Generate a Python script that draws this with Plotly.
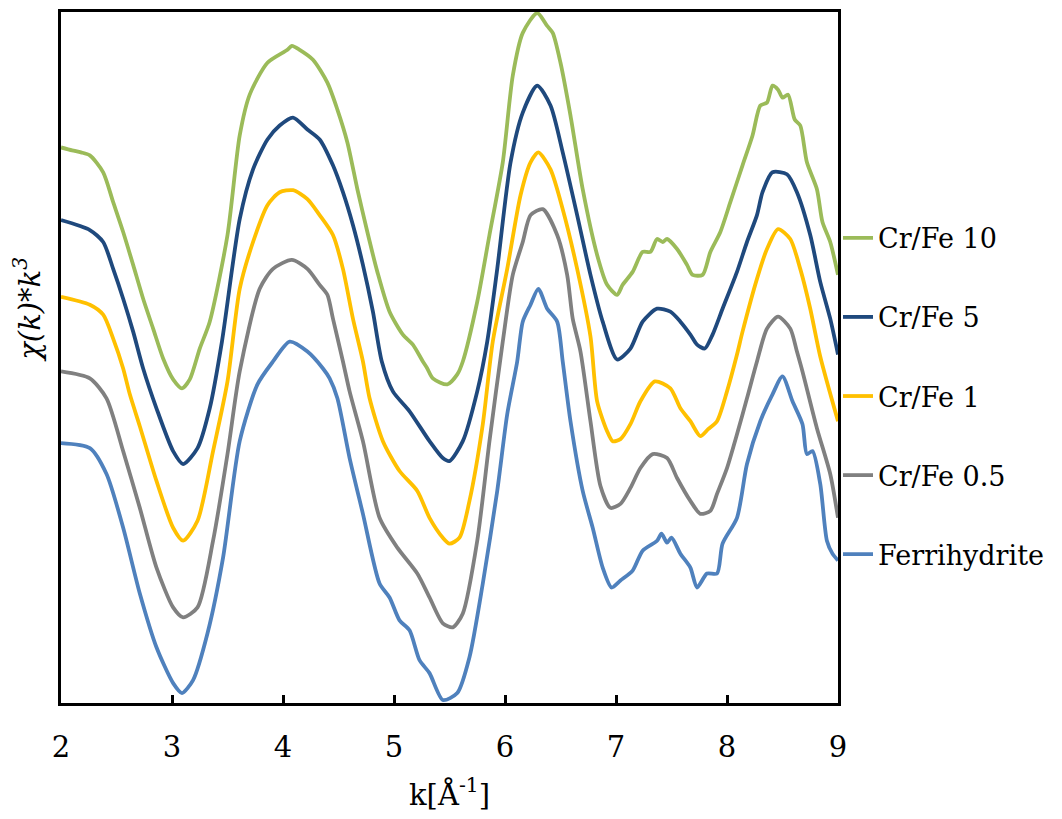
import plotly.graph_objects as go

# EXAFS k^3-weighted chi(k) spectra, vertically offset for clarity (arbitrary units)
k_cr10 = [2.00, 2.10, 2.18, 2.26, 2.38, 2.47, 2.56, 2.65, 2.74, 2.83, 2.92, 3.01, 3.09, 3.16, 3.25,
          3.34, 3.50, 3.61, 3.70, 3.86, 4.04, 4.08, 4.15, 4.27, 4.40, 4.49, 4.58, 4.67, 4.76, 4.85,
          4.96, 5.08, 5.17, 5.26, 5.30, 5.35, 5.48, 5.57, 5.62, 5.75, 5.86, 5.98, 6.07, 6.16, 6.29,
          6.38, 6.43, 6.50, 6.59, 6.70, 6.83, 6.92, 7.01, 7.06, 7.15, 7.24, 7.31, 7.37, 7.42, 7.46,
          7.55, 7.64, 7.69, 7.78, 7.85, 7.94, 8.03, 8.14, 8.23, 8.30, 8.36, 8.41, 8.46, 8.50, 8.55,
          8.61, 8.66, 8.72, 8.81, 8.86, 8.93, 9.00]
chi_cr10 = [5.58, 5.55, 5.53, 5.50, 5.33, 5.03, 4.73, 4.40, 4.06, 3.76, 3.46, 3.25, 3.16, 3.25, 3.56,
            3.83, 4.70, 5.70, 6.11, 6.43, 6.56, 6.60, 6.56, 6.46, 6.23, 5.96, 5.63, 5.16, 4.73, 4.33,
            3.93, 3.70, 3.60, 3.43, 3.36, 3.26, 3.20, 3.30, 3.43, 4.03, 4.70, 5.43, 6.30, 6.73, 6.93,
            6.80, 6.73, 6.43, 5.90, 5.16, 4.50, 4.20, 4.10, 4.20, 4.33, 4.53, 4.53, 4.66, 4.63, 4.66,
            4.56, 4.40, 4.30, 4.30, 4.53, 4.73, 5.03, 5.40, 5.70, 6.00, 6.03, 6.20, 6.16, 6.08, 6.11,
            5.86, 5.80, 5.43, 5.16, 4.83, 4.63, 4.30]

k_cr5 = [2.00, 2.26, 2.38, 2.47, 2.56, 2.65, 2.74, 2.86, 3.01, 3.10, 3.23, 3.34, 3.45, 3.61, 3.73,
         3.86, 3.97, 4.09, 4.22, 4.33, 4.45, 4.54, 4.63, 4.72, 4.81, 4.89, 4.99, 5.14, 5.32, 5.44,
         5.50, 5.62, 5.75, 5.84, 5.93, 6.05, 6.16, 6.29, 6.41, 6.52, 6.65, 6.77, 6.88, 7.01, 7.13,
         7.24, 7.37, 7.49, 7.58, 7.67, 7.73, 7.80, 7.87, 7.96, 8.09, 8.18, 8.27, 8.32, 8.41, 8.54,
         8.63, 8.75, 8.84, 8.93, 9.00]
chi_cr5 = [4.85, 4.75, 4.63, 4.36, 4.06, 3.73, 3.36, 2.96, 2.53, 2.40, 2.56, 2.96, 3.63, 4.86, 5.36,
           5.66, 5.80, 5.88, 5.76, 5.66, 5.40, 5.13, 4.80, 4.40, 3.93, 3.43, 3.13, 2.93, 2.63, 2.46,
           2.43, 2.63, 3.13, 3.63, 4.36, 5.43, 5.93, 6.20, 6.00, 5.53, 4.90, 4.30, 3.83, 3.45, 3.56,
           3.83, 3.96, 3.93, 3.83, 3.70, 3.60, 3.56, 3.70, 3.96, 4.33, 4.63, 4.90, 5.13, 5.33, 5.31,
           5.13, 4.70, 4.23, 3.86, 3.50]

k_cr1 = [2.00, 2.26, 2.38, 2.47, 2.56, 2.62, 2.71, 2.86, 3.01, 3.10, 3.23, 3.37, 3.50, 3.61, 3.73,
         3.86, 3.97, 4.09, 4.22, 4.33, 4.45, 4.54, 4.63, 4.72, 4.78, 4.90, 5.05, 5.21, 5.32, 5.44,
         5.50, 5.59, 5.68, 5.80, 5.89, 6.02, 6.14, 6.23, 6.30, 6.41, 6.52, 6.65, 6.77, 6.83, 6.92,
         6.97, 7.04, 7.13, 7.22, 7.35, 7.49, 7.58, 7.67, 7.76, 7.83, 7.91, 8.00, 8.09, 8.14, 8.27,
         8.36, 8.46, 8.57, 8.66, 8.75, 8.84, 9.00]
chi_cr1 = [4.08, 4.00, 3.90, 3.66, 3.36, 3.10, 2.78, 2.23, 1.76, 1.63, 1.83, 2.53, 3.23, 4.16, 4.63,
           5.00, 5.13, 5.15, 5.06, 4.90, 4.70, 4.36, 3.86, 3.43, 3.06, 2.63, 2.33, 2.13, 1.86, 1.66,
           1.60, 1.66, 2.03, 2.80, 3.63, 4.36, 5.10, 5.43, 5.53, 5.36, 4.96, 4.36, 3.68, 3.03, 2.73,
           2.63, 2.65, 2.80, 3.03, 3.23, 3.16, 2.96, 2.83, 2.68, 2.75, 2.83, 3.13, 3.50, 3.73, 4.26,
           4.56, 4.76, 4.66, 4.36, 3.96, 3.48, 2.83]

k_cr05 = [2.00, 2.26, 2.41, 2.56, 2.71, 2.86, 3.01, 3.10, 3.23, 3.37, 3.50, 3.61, 3.79, 3.91, 4.08,
          4.22, 4.33, 4.40, 4.45, 4.54, 4.60, 4.72, 4.87, 5.03, 5.21, 5.32, 5.44, 5.53, 5.62, 5.75,
          5.86, 5.98, 6.07, 6.16, 6.23, 6.34, 6.47, 6.56, 6.61, 6.68, 6.77, 6.86, 6.95, 7.04, 7.13,
          7.22, 7.33, 7.46, 7.55, 7.67, 7.76, 7.85, 7.91, 8.00, 8.09, 8.18, 8.27, 8.36, 8.46, 8.57,
          8.63, 8.68, 8.81, 8.93, 9.00]
chi_cr05 = [3.33, 3.26, 3.06, 2.53, 1.96, 1.36, 0.96, 0.86, 0.96, 1.63, 2.50, 3.33, 4.16, 4.36, 4.45,
            4.36, 4.20, 4.10, 3.86, 3.43, 3.13, 2.63, 1.86, 1.56, 1.30, 1.06, 0.80, 0.76, 0.90, 1.63,
            2.63, 3.63, 4.30, 4.63, 4.90, 4.96, 4.70, 4.30, 3.86, 3.53, 2.83, 2.18, 1.96, 2.00, 2.16,
            2.36, 2.50, 2.46, 2.26, 2.03, 1.90, 1.93, 2.10, 2.36, 2.70, 3.06, 3.43, 3.76, 3.88, 3.76,
            3.53, 3.33, 2.76, 2.30, 1.86]

k_fh = [2.00, 2.26, 2.41, 2.56, 2.71, 2.86, 3.01, 3.09, 3.19, 3.32, 3.46, 3.61, 3.77, 3.91, 4.06,
        4.22, 4.36, 4.42, 4.49, 4.60, 4.72, 4.87, 4.96, 5.05, 5.14, 5.23, 5.32, 5.44, 5.57, 5.68,
        5.80, 5.93, 6.02, 6.11, 6.16, 6.23, 6.30, 6.38, 6.47, 6.52, 6.59, 6.70, 6.79, 6.88, 6.96,
        7.04, 7.15, 7.24, 7.37, 7.41, 7.46, 7.50, 7.58, 7.67, 7.73, 7.82, 7.91, 7.96, 8.09, 8.18,
        8.30, 8.41, 8.50, 8.59, 8.68, 8.72, 8.77, 8.84, 8.90, 8.95, 9.00]
chi_fh = [2.61, 2.56, 2.30, 1.76, 1.10, 0.56, 0.20, 0.10, 0.23, 0.70, 1.46, 2.63, 3.20, 3.43, 3.63,
          3.53, 3.36, 3.26, 3.06, 2.46, 1.90, 1.20, 1.06, 0.83, 0.73, 0.43, 0.30, 0.03, 0.10, 0.46,
          1.20, 2.13, 2.90, 3.43, 3.83, 4.00, 4.16, 3.96, 3.83, 3.43, 2.83, 2.13, 1.76, 1.36, 1.16,
          1.23, 1.33, 1.53, 1.63, 1.70, 1.61, 1.66, 1.50, 1.36, 1.16, 1.30, 1.30, 1.60, 1.86, 2.40,
          2.83, 3.10, 3.28, 3.03, 2.80, 2.50, 2.53, 2.20, 1.63, 1.50, 1.43]

series = [
    ("Cr/Fe 10", k_cr10, chi_cr10, "#9BBB59"),
    ("Cr/Fe 5", k_cr5, chi_cr5, "#1F497D"),
    ("Cr/Fe 1", k_cr1, chi_cr1, "#FFC000"),
    ("Cr/Fe 0.5", k_cr05, chi_cr05, "#808080"),
    ("Ferrihydrite", k_fh, chi_fh, "#4F81BD"),
]

k_ticks = [2, 3, 4, 5, 6, 7, 8, 9]

FONT = "DejaVu Serif"
FS = 27

fig = go.Figure()
for name, k, chi, color in series:
    fig.add_trace(go.Scatter(
        x=k, y=chi, name=name, mode="lines", legendgroup=name,
        line=dict(color=color, width=3.8, shape="spline", smoothing=0.7),
    ))

fig.update_layout(
    width=1062, height=819,
    margin=dict(l=61, r=224, t=9, b=116),
    paper_bgcolor="white", plot_bgcolor="white",
    font=dict(family=FONT, size=FS, color="black"),
    showlegend=True,
    legend=dict(
        x=1.0, xanchor="left", y=0.708, yanchor="top",
        bgcolor="rgba(0,0,0,0)", borderwidth=0,
        font=dict(family=FONT, size=FS, color="black"),
        tracegroupgap=41, itemwidth=30,
    ),
    xaxis=dict(
        range=[2, 9], tickvals=k_ticks, ticktext=[str(t) for t in k_ticks],
        showgrid=False, zeroline=False,
        showline=True, linecolor="black", linewidth=3, mirror=True,
        ticks="inside", ticklen=8, tickwidth=2.5, tickcolor="black",
        ticklabelstandoff=16,
        tickfont=dict(family=FONT, size=29, color="black"),
        title=dict(text="k[Å<sup>-1</sup>]", font=dict(family=FONT, size=29, color="black"), standoff=22),
    ),
    yaxis=dict(
        range=[0, 6.94], showticklabels=False, ticks="",
        showgrid=False, zeroline=False,
        showline=True, linecolor="black", linewidth=3, mirror=True,
    ),
    annotations=[dict(
        text="<i>χ(k)*k<sup>3</sup></i>", textangle=-90,
        xref="paper", yref="paper", x=-0.043, y=0.57,
        xanchor="center", yanchor="middle", showarrow=False,
        font=dict(family=FONT, size=29, color="black"),
    )],
)

fig.write_html("out.html")
